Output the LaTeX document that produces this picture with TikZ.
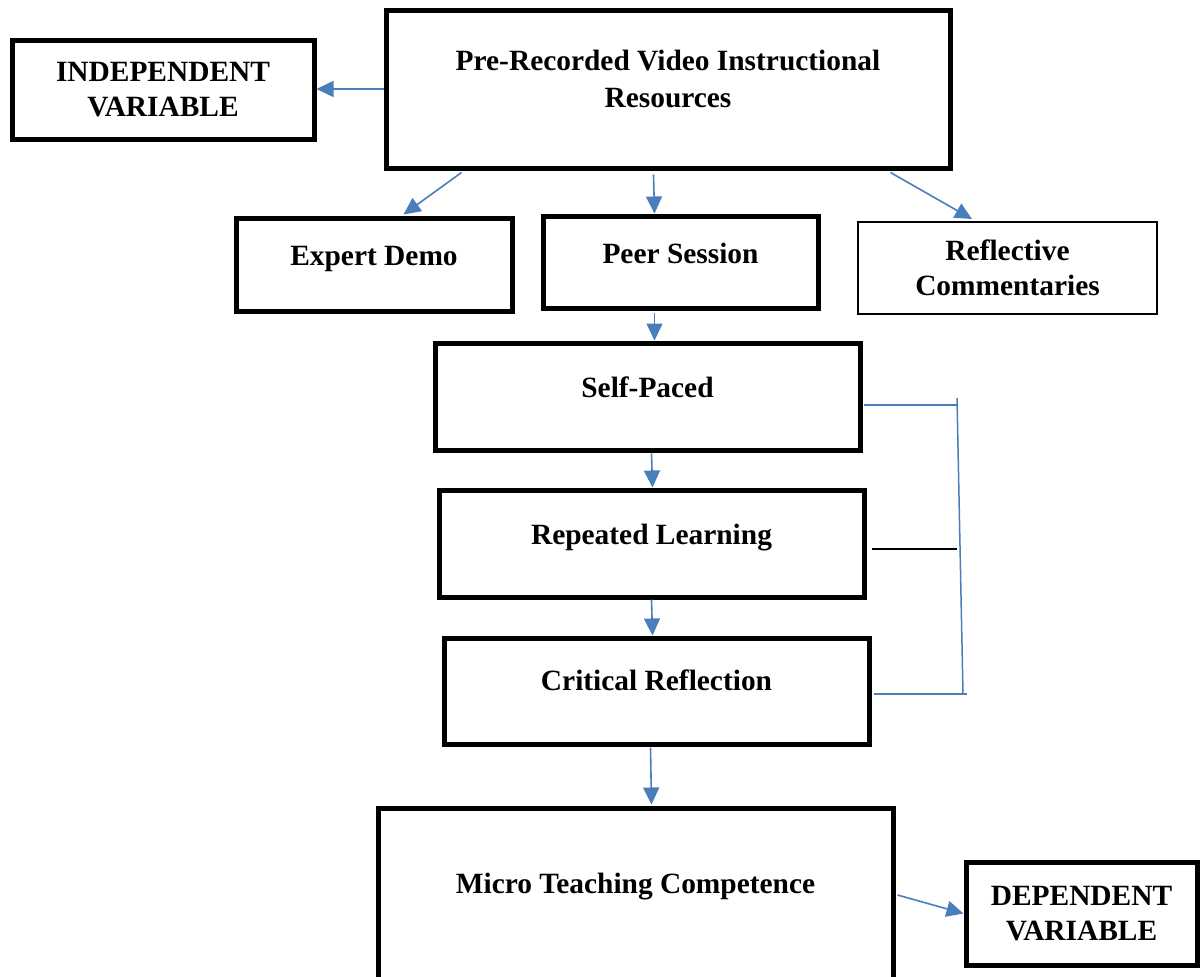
\documentclass[tikz,border=0pt]{standalone}
\usepackage{fontspec}
\setmainfont{Liberation Serif}
\usetikzlibrary{arrows.meta,calc}
\definecolor{lineblue}{HTML}{4A7EBB}
\begin{document}
\begin{tikzpicture}[x=0.5pt,y=-0.5pt,
  box/.style={draw=black,line width=2.5pt,align=center,inner sep=0pt,
    font=\fontsize{14.7}{17.5}\selectfont\bfseries},
  thinbox/.style={box,line width=1pt},
  up/.style={text height=0.75em,text depth=0.25em+#1pt},
  uptwo/.style={text height=0.75em+18.5pt,text depth=0.25em+#1pt},
  link/.style={draw=lineblue,line width=0.8pt,-{Triangle[length=8.5pt,width=8pt]}},
  brace/.style={draw=lineblue,line width=0.75pt}]
\useasboundingbox (0,0) rectangle (1200,976);
\def\bw{425}
\def\bh{107}
\node[box,minimum width=302pt*0.5,minimum height=99pt*0.5] (indep) at (163,89.5) {INDEPENDENT\\VARIABLE};
\node[box,uptwo=5,minimum width=564pt*0.5,minimum height=158pt*0.5,
  font=\fontsize{14.7}{18.5}\selectfont\bfseries] (prerec) at (668,89) {Pre-Recorded Video Instructional\\Resources};
\node[box,up=4.5,minimum width=276pt*0.5,minimum height=93pt*0.5] (expert) at (374,264.5) {Expert Demo};
\node[box,up=4,minimum width=275pt*0.5,minimum height=92pt*0.5] (peer) at (680.5,262) {Peer Session};
\node[thinbox,minimum width=299pt*0.5,minimum height=92pt*0.5] (refl) at (1007.5,268) {Reflective\\Commentaries};
\node[box,up=4.5,minimum width=\bw pt*0.5,minimum height=\bh pt*0.5] (self) at (647.5,396.5) {Self-Paced};
\node[box,up=4.5,minimum width=\bw pt*0.5,minimum height=\bh pt*0.5] (repeat) at (651.5,543.5) {Repeated Learning};
\node[box,up=6,minimum width=\bw pt*0.5,minimum height=106pt*0.5] (critical) at (656.5,691) {Critical Reflection};
\node[box,up=10,minimum width=515pt*0.5,minimum height=180pt*0.5] (micro) at (635.5,898) {Micro Teaching Competence};
\node[box,minimum width=231pt*0.5,minimum height=103pt*0.5] (dep) at (1081.5,913.5) {DEPENDENT\\VARIABLE};

% arrows
\draw[link] (prerec.west) -- (prerec.west -| indep.east);
\draw[link] ($(prerec.south west)+(78,2)$) -- ($(expert.north west)+(170,-1)$);
\draw[link] ($(prerec.south west)+(270,4)$) -- ($(peer.north west)+(114,0)$);
\draw[link] ($(prerec.south east)+(-62,2)$) -- ($(refl.north west)+(115,-2)$);
\draw[link] ($(peer.south west)+(114,2)$) -- ($(self.north west)+(222,0)$);
\draw[link] ($(self.south west)+(219,1)$) -- ($(repeat.north west)+(216,0)$);
\draw[link] ($(repeat.south west)+(215,0)$) -- ($(critical.north west)+(211,0)$);
\draw[link] ($(critical.south west)+(209,1)$) -- ($(micro.north west)+(276,-1)$);
\draw[link] ($(micro.east)+(2,-3)$) -- (dep.west);

% bracket
\coordinate (brtop) at (957,398);
\coordinate (brbot) at (963,694);
\draw[brace] ($(self.east)+(1,8.5)$) -- (brtop |- 0,405);
\draw[brace] (brtop) -- (brbot);
\draw[brace] ($(critical.east)+(2,3)$) -- ($(brbot)+(4,0)$);
\draw[line width=1pt] ($(repeat.east)+(5,5.5)$) -- (957,549);
\end{tikzpicture}
\end{document}
